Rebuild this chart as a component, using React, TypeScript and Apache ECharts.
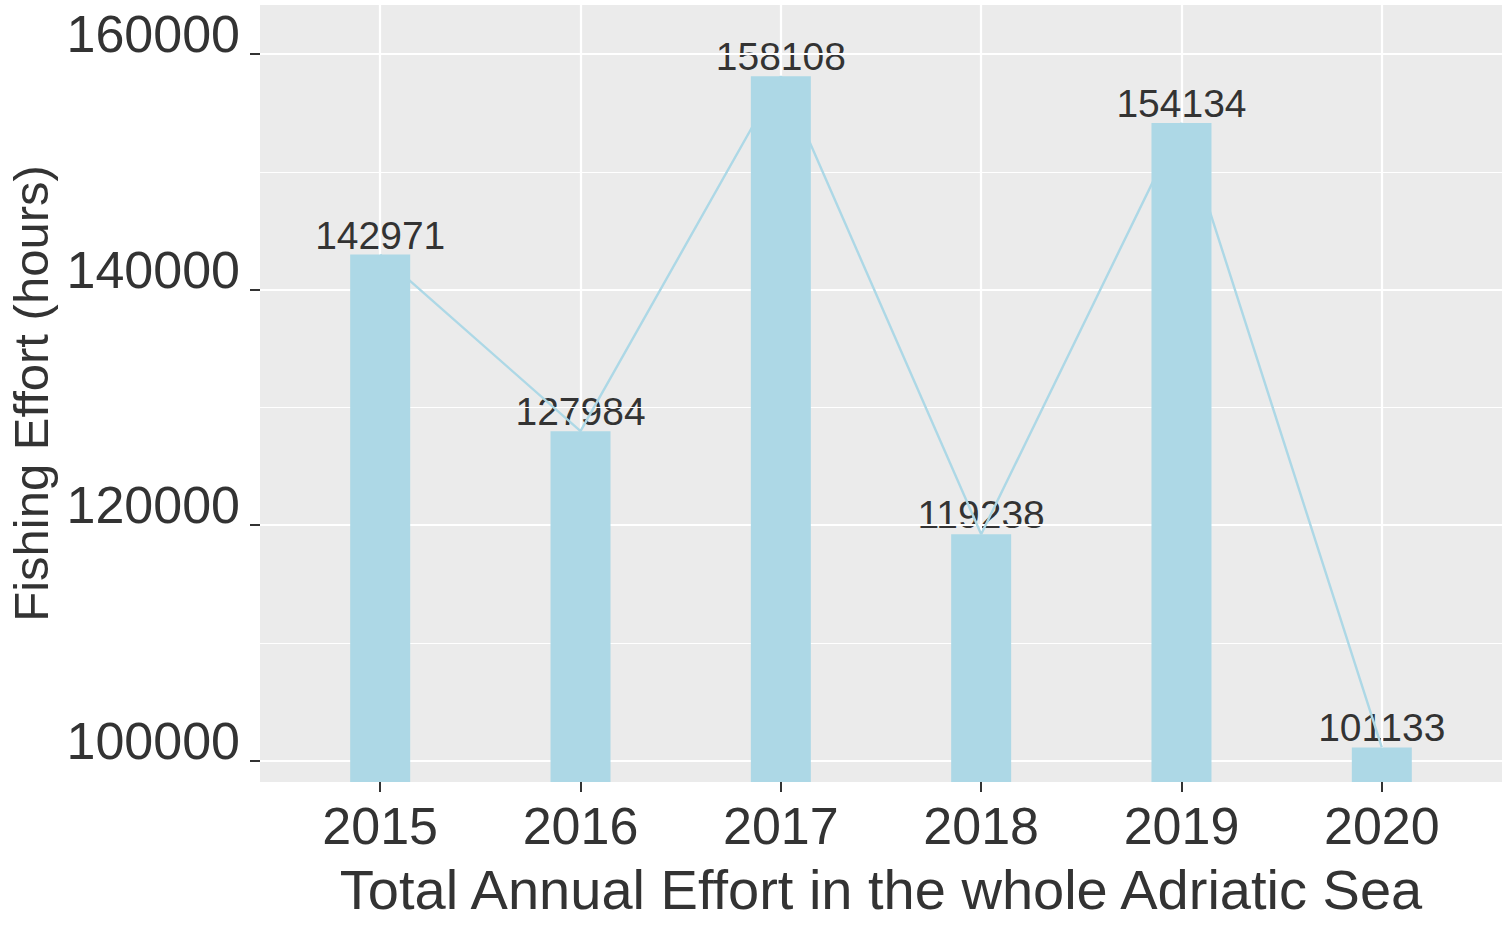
import React, { useEffect, useRef } from "react";
import * as echarts from "echarts";

const years = [2015, 2016, 2017, 2018, 2019, 2020];
const effort = [142971, 127984, 158108, 119238, 154134, 101133];
const yTicks = [100000, 120000, 140000, 160000];
const yMinor = [110000, 130000, 150000];
const xTitle = "Total Annual Effort in the whole Adriatic Sea";
const yTitle = "Fishing Effort (hours)";

const FONT = "'Liberation Sans', Arial, Helvetica, sans-serif";
const BAR = "#ADD8E6";

export default function App() {
  const ref = useRef<HTMLDivElement>(null);
  useEffect(() => {
    document.body.style.margin = "0";
    const chart = echarts.init(ref.current!, null, { renderer: "svg" });
    const pts = years.map((y, i) => [y, effort[i]]);
    const gridLines: any[] = [
      ...yTicks.map((v) => ({ yAxis: v, lineStyle: { width: 2.2 } })),
      ...yMinor.map((v) => ({ yAxis: v, lineStyle: { width: 1.1 } })),
      ...years.map((v) => ({ xAxis: v, lineStyle: { width: 2.2 } })),
    ];
    chart.setOption({
      animation: false,
      textStyle: { fontFamily: FONT },
      grid: {
        left: 260,
        top: 5,
        right: 10,
        bottom: 143,
        containLabel: false,
        outerBoundsMode: "none",
        show: true,
        backgroundColor: "#EBEBEB",
        borderWidth: 0,
        z: 0,
      },
      xAxis: {
        type: "value",
        min: 2014.4,
        max: 2020.6,
        name: xTitle,
        nameLocation: "middle",
        nameGap: 85,
        nameTextStyle: { fontSize: 56, lineHeight: 44, color: "#333", fontFamily: FONT },
        axisLine: { show: false },
        axisTick: {
          show: true,
          customValues: years,
          length: 10,
          lineStyle: { color: "#333", width: 2 },
        },
        axisLabel: {
          customValues: years,
          formatter: (v: number) => String(v),
          fontSize: 52,
          color: "#333",
          margin: 18,
          fontFamily: FONT,
        },
        splitLine: { show: false },
      },
      yAxis: {
        type: "value",
        min: 98200,
        max: 164160,
        name: yTitle,
        nameLocation: "middle",
        nameGap: 201,
        nameTextStyle: { fontSize: 49, color: "#333", fontFamily: FONT },
        axisLine: { show: false },
        axisTick: {
          show: true,
          customValues: yTicks,
          length: 10,
          lineStyle: { color: "#333", width: 2 },
        },
        axisLabel: {
          customValues: yTicks,
          formatter: (v: number) => String(v),
          fontSize: 52,
          color: "#333",
          margin: 20,
          verticalAlign: "bottom",
          lineHeight: 40,
          fontFamily: FONT,
        },
        splitLine: { show: false },
      },
      series: [
        {
          type: "scatter",
          z: 1,
          data: pts,
          symbolSize: 0,
          silent: true,
          label: {
            show: true,
            position: "top",
            distance: 0,
            formatter: (p: any) => String(p.value[1]),
            fontSize: 39,
            color: "#000",
            fontFamily: FONT,
          },
        },
        {
          type: "line",
          z: 2,
          data: [],
          silent: true,
          markLine: {
            z: 2,
            silent: true,
            symbol: ["none", "none"],
            label: { show: false },
            lineStyle: { color: "#FFFFFF", type: "solid" },
            emphasis: { disabled: true },
            data: gridLines,
          },
        },
        {
          type: "line",
          z: 3,
          data: pts,
          showSymbol: false,
          symbol: "none",
          lineStyle: { color: BAR, width: 2.4 },
          silent: true,
        },
        {
          type: "bar",
          z: 4,
          data: pts,
          barWidth: 60,
          itemStyle: { color: BAR },
          silent: true,
        },
      ],
    });
    return () => chart.dispose();
  }, []);
  return (
    <div
      ref={ref}
      style={{ position: "fixed", left: 0, top: 0, width: 1512, height: 925, background: "#fff" }}
    />
  );
}
